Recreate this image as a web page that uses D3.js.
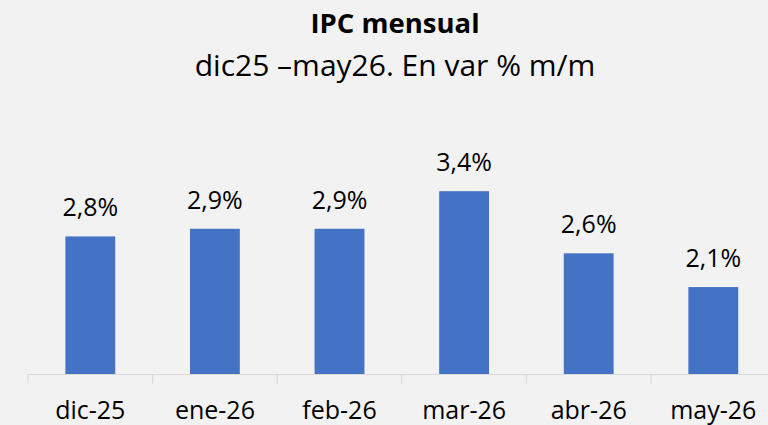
<!DOCTYPE html>
<html>
<head>
<meta charset="utf-8">
<script src="https://cdn.jsdelivr.net/npm/d3@7"></script>
<style>
  html, body { margin: 0; padding: 0; background: #f2f2f2; }
  svg { display: block; font-family: 'Open Sans', sans-serif; }
</style>
</head>
<body>
<svg id="chart" width="768" height="425"></svg>
<script>
const months = ['dic-25', 'ene-26', 'feb-26', 'mar-26', 'abr-26', 'may-26'];
const ipc = [2.8, 2.9, 2.9, 3.39, 2.58, 2.14];

const svg = d3.select('#chart');
const W = 768;
const H = 425;

svg.append('rect').attr('width', W).attr('height', H).attr('fill', '#f2f2f2');

// titles
svg.append('text')
  .attr('x', 395).attr('y', 33)
  .attr('text-anchor', 'middle')
  .attr('font-size', 27.5).attr('font-weight', 700)
  .attr('fill', '#000')
  .text('IPC mensual');

svg.append('text')
  .attr('x', 395).attr('y', 76)
  .attr('text-anchor', 'middle')
  .attr('font-size', 30)
  .attr('fill', '#000')
  .text('dic25 \u2013may26. En var % m/m');

const baseY = 374.5;

const x = d3.scaleBand()
  .domain(months)
  .range([28, 775.6])
  .paddingInner(0.6)
  .paddingOuter(0.3);

const y = d3.scaleLinear()
  .domain([1, 4])
  .range([baseY, baseY - 3 * 76.7]);

const fmt = (v) => d3.format('.1f')(v).replace('.', ',') + '%';

// bars
svg.append('g')
  .selectAll('rect')
  .data(months)
  .join('rect')
  .attr('x', (d) => x(d))
  .attr('width', x.bandwidth())
  .attr('y', (d, i) => y(ipc[i]))
  .attr('height', (d, i) => baseY - y(ipc[i]))
  .attr('fill', '#4472c4');

// value labels
svg.append('g')
  .selectAll('text')
  .data(months)
  .join('text')
  .attr('x', (d) => x(d) + x.bandwidth() / 2)
  .attr('y', (d, i) => y(ipc[i]) - 20)
  .attr('text-anchor', 'middle')
  .attr('font-size', 25)
  .attr('fill', '#000')
  .text((d, i) => fmt(ipc[i]));

// x axis
const axis = svg.append('g')
  .attr('transform', `translate(0,${baseY})`)
  .call(d3.axisBottom(x).tickSize(0).tickPadding(0));

axis.select('.domain').remove();
axis.selectAll('.tick text')
  .attr('y', 44)
  .attr('dy', 0)
  .attr('font-size', 25)
  .attr('font-family', "'Open Sans', sans-serif")
  .attr('fill', '#000');

svg.append('line')
  .attr('x1', x.range()[0]).attr('x2', x.range()[1])
  .attr('y1', baseY).attr('y2', baseY)
  .attr('stroke', '#d9d9d9').attr('stroke-width', 1.2);

const bounds = months.map((d) => x(d) - (x.step() - x.bandwidth()) / 2);
bounds.push(x.range()[1]);
svg.append('g')
  .selectAll('line')
  .data(bounds)
  .join('line')
  .attr('x1', (d) => d).attr('x2', (d) => d)
  .attr('y1', baseY).attr('y2', baseY + 9)
  .attr('stroke', '#d9d9d9').attr('stroke-width', 1.2);
</script>
</body>
</html>
